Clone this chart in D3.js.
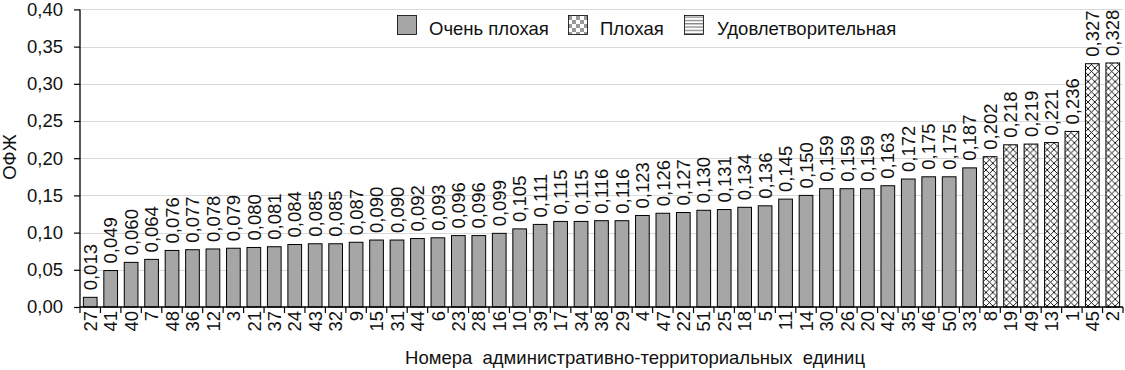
<!DOCTYPE html>
<html><head><meta charset="utf-8">
<script src="https://cdn.jsdelivr.net/npm/d3@7"></script>
<style>body{margin:0;background:#fff}svg{display:block;font-family:"Liberation Sans",Arial,sans-serif}</style>
</head><body><svg id="c" width="1125" height="370"></svg>
<script>
const categories = ["27","41","40","7","48","36","12","3","21","37","24","43","32","9","15","31","44","6","23","28","16","10","39","17","34","38","29","4","47","22","51","25","18","5","11","14","30","26","20","42","35","46","50","33","8","19","49","13","1","45","2"];
const values = [0.013,0.049,0.060,0.064,0.076,0.077,0.078,0.079,0.080,0.081,0.084,0.085,0.085,0.087,0.090,0.090,0.092,0.093,0.096,0.096,0.099,0.105,0.111,0.115,0.115,0.116,0.116,0.123,0.126,0.127,0.130,0.131,0.134,0.136,0.145,0.150,0.159,0.159,0.159,0.163,0.172,0.175,0.175,0.187,0.202,0.218,0.219,0.221,0.236,0.327,0.328];
const classes = ["vb","vb","vb","vb","vb","vb","vb","vb","vb","vb","vb","vb","vb","vb","vb","vb","vb","vb","vb","vb","vb","vb","vb","vb","vb","vb","vb","vb","vb","vb","vb","vb","vb","vb","vb","vb","vb","vb","vb","vb","vb","vb","vb","vb","b","b","b","b","b","b","b"];
const yTicks = [0,0.05,0.10,0.15,0.20,0.25,0.30,0.35,0.40];
const legendLabels = ["Очень плохая","Плохая","Удовлетворительная"];
const xTitle = "Номера\u00a0\u00a0административно-территориальных\u00a0\u00a0единиц";
const yTitle = "ОФЖ";

const FS = 18.5;
const svg = d3.select("#c");
const L = 80, R = 1123, T = 9.4, B = 307;
const x = d3.scaleBand().domain(categories).range([L, R]).paddingInner(0.33).paddingOuter(0.165);
const y = d3.scaleLinear().domain([0, 0.40]).range([B, T]);
const fmt = d => d3.format(".2f")(d).replace(".", ",");
const fmt3 = d => d3.format(".3f")(d).replace(".", ",");

const defs = svg.append("defs");
const ph = defs.append("pattern").attr("id","hatch").attr("patternUnits","userSpaceOnUse").attr("width",6.8).attr("height",6.8);
ph.append("rect").attr("width",6.8).attr("height",6.8).attr("fill","#fff");
ph.append("path").attr("d","M0,0L6.8,6.8M6.8,0L0,6.8").attr("stroke","#000").attr("stroke-width",0.9);
const pc = defs.append("pattern").attr("id","checker").attr("patternUnits","userSpaceOnUse").attr("width",8).attr("height",8);
pc.append("rect").attr("width",8).attr("height",8).attr("fill","#fff");
pc.append("rect").attr("width",4).attr("height",4).attr("fill","#999");
pc.append("rect").attr("x",4).attr("y",4).attr("width",4).attr("height",4).attr("fill","#999");
const pl = defs.append("pattern").attr("id","hlines").attr("patternUnits","userSpaceOnUse").attr("width",4).attr("height",3.3);
pl.append("rect").attr("width",4).attr("height",3.3).attr("fill","#fff");
pl.append("rect").attr("width",4).attr("height",1.3).attr("fill","#888");

// gridlines
svg.append("g").selectAll("line").data(yTicks.filter(d=>d>0)).join("line")
  .attr("x1",L).attr("x2",R).attr("y1",d=>Math.round(y(d))+0.5).attr("y2",d=>Math.round(y(d))+0.5)
  .attr("stroke","#d9d9d9").attr("stroke-width",1.2);

// legend
const lg = svg.append("g");
const lx = [397, 568, 684], tx = [429, 600, 717];
const fills = ["#a6a6a6","url(#checker)","url(#hlines)"];
legendLabels.forEach((t,i)=>{
  lg.append("rect").attr("x",lx[i]+0.5).attr("y",15.5).attr("width",19).attr("height",19).attr("fill",fills[i]).attr("stroke","#000").attr("stroke-width",0.8);
  lg.append("text").attr("x",tx[i]).attr("y",35).attr("font-size",FS).attr("fill","#111").text(t);
});

// bars
const data = categories.map((c,i)=>({c, v: values[i], k: classes[i]}));
svg.append("g").selectAll("rect").data(data).join("rect")
  .attr("x",d=>x(d.c)).attr("width",x.bandwidth())
  .attr("y",d=>y(d.v)).attr("height",d=>B-y(d.v))
  .attr("fill",d=>d.k==="vb"?"#a6a6a6":"url(#hatch)")
  .attr("stroke","#000").attr("stroke-width",1);

// value labels
svg.append("g").selectAll("text").data(data).join("text")
  .attr("transform",d=>`translate(${x(d.c)+x.bandwidth()/2},${y(d.v)-7}) rotate(-90)`)
  .attr("dy","0.36em").attr("font-size",FS).attr("fill","#111").text(d=>fmt3(d.v));

// x axis
const xa = svg.append("g").attr("transform",`translate(0,${B})`);
xa.append("line").attr("x1",L).attr("x2",R).attr("stroke","#000").attr("stroke-width",1.3);
const bounds = d3.range(categories.length+1).map(i=>L+i*(R-L)/categories.length);
xa.selectAll("line.t").data(bounds).join("line").attr("class","t")
  .attr("x1",d=>d).attr("x2",d=>d).attr("y1",0).attr("y2",6).attr("stroke","#000").attr("stroke-width",1.2);
xa.selectAll("text").data(categories).join("text")
  .attr("transform",d=>`translate(${x(d)+x.bandwidth()/2},4) rotate(-90)`)
  .attr("text-anchor","end").attr("dy","0.36em").attr("font-size",FS).attr("fill","#111").text(d=>d);

// y axis
const ya = svg.append("g").attr("transform",`translate(${L},0)`)
  .call(d3.axisLeft(y).tickValues(yTicks).tickFormat(fmt).tickSize(6).tickPadding(11));
ya.select(".domain").attr("stroke","#000").attr("stroke-width",1.3).attr("d",`M0,${B}V${T}`);
ya.selectAll(".tick line").attr("stroke","#000").attr("stroke-width",1.2);
ya.selectAll(".tick text").attr("font-size",FS).attr("fill","#111").attr("font-family","Liberation Sans, Arial, sans-serif");

// titles
svg.append("text").attr("x",635).attr("y",364).attr("text-anchor","middle").attr("font-size",FS).attr("fill","#111").text(xTitle);
svg.append("text").attr("transform",`translate(15.5,157) rotate(-90)`).attr("text-anchor","middle").attr("font-size",FS).attr("fill","#111").text(yTitle);
</script></body></html>
